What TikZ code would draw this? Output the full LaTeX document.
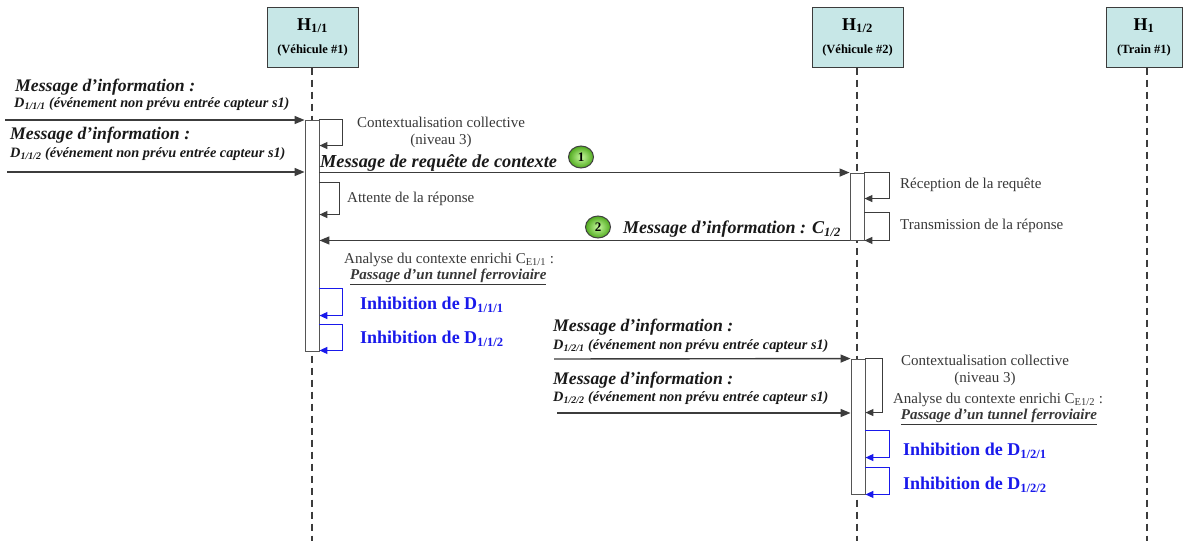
\documentclass[tikz,border=0pt]{standalone}
\usepackage{fontspec}
\setmainfont{Liberation Serif}
\usetikzlibrary{arrows.meta,shapes.geometric}
\definecolor{headfill}{RGB}{199,231,231}
\definecolor{linegray}{RGB}{60,60,60}
\definecolor{bargray}{RGB}{85,85,85}
\definecolor{inhblue}{RGB}{25,25,235}
\definecolor{txtgray}{RGB}{55,55,55}
\definecolor{ballin}{RGB}{200,250,160}
\definecolor{ballout}{RGB}{80,170,30}
\newcommand{\fmsg}{\fontsize{17.7}{20}\selectfont\bfseries\itshape}
\newcommand{\fdsc}{\fontsize{14.3}{16}\selectfont\bfseries\itshape}
\newcommand{\flab}{\fontsize{15}{17}\selectfont}
\newcommand{\finh}{\fontsize{18}{20}\selectfont\bfseries}
\newcommand{\fhead}{\fontsize{18}{20}\selectfont\bfseries}
\newcommand{\fheadsub}{\fontsize{12.5}{14}\selectfont\bfseries}
\tikzset{
  head/.style={draw=linegray, line width=1pt, fill=headfill, minimum height=60, inner sep=0, align=center},
  lifeline/.style={draw=linegray, line width=1.2pt, dash pattern=on 7pt off 5pt},
  actbar/.style={draw=bargray, fill=white, line width=0.9pt, minimum width=14, inner sep=0},
  msg/.style={draw=linegray, line width=1.4pt, -{Triangle[length=10pt,width=8pt]}},
  selfmsg/.style={draw=linegray, line width=1.3pt, -{Triangle[length=8pt,width=7pt]}},
  inhmsg/.style={draw=inhblue, line width=1.3pt, -{Triangle[length=8pt,width=7pt]}},
  lab/.style={inner sep=0, text=txtgray, font=\flab},
  msgtxt/.style={inner sep=0, text=black!90, font=\fmsg},
  dsctxt/.style={inner sep=0, text=black!90, font=\fdsc},
  inhtxt/.style={inner sep=0, text=inhblue, font=\finh},
  numball/.style={ellipse, draw=black!75, line width=1pt, inner color=ballin, outer color=ballout, minimum width=25, minimum height=22, inner sep=0, font=\fontsize{13}{14}\selectfont\bfseries}
}
\begin{document}
\begin{tikzpicture}[x=1pt,y=-1pt]
\useasboundingbox (0,0) rectangle (1183,541);
% heads
\node[head, minimum width=91] (h11) at (312.5,37) {{\fhead H\textsubscript{1/1}}\\[11pt]{\fheadsub (Véhicule \#1)}};
\node[head, minimum width=91] (h12) at (857.5,37) {{\fhead H\textsubscript{1/2}}\\[11pt]{\fheadsub (Véhicule \#2)}};
\node[head, minimum width=76] (h1) at (1144,37) {{\fhead H\textsubscript{1}}\\[11pt]{\fheadsub (Train \#1)}};
% lifelines
\coordinate (e11) at (312,541);
\coordinate (e12) at (857,541);
\coordinate (e1) at (1147,541);
\draw[lifeline] (e11 |- h11.south) -- (e11);
\draw[lifeline] (e12 |- h12.south) -- (e12);
\draw[lifeline] (e1 |- h1.south) -- (e1);
% activation bars
\node[actbar, minimum height=231] (b11) at (312,235.5) {};
\node[actbar, minimum height=67] (b12a) at (857,206.5) {};
\node[actbar, minimum height=135] (b12b) at (858,426.5) {};
% incoming messages H1/1
\node[msgtxt, anchor=west] (t1a) at (15,87) {Message d’information :};
\node[dsctxt, anchor=west] (t1b) at (14,104) {D\textsubscript{1/1/1} (événement non prévu entrée capteur s1)};
\coordinate (s1) at (5,120);
\draw[msg] (s1) -- (s1 -| b11.west);
\node[msgtxt, anchor=west] (t2a) at (10,135) {Message d’information :};
\node[dsctxt, anchor=west] (t2b) at (10,154) {D\textsubscript{1/1/2} (événement non prévu entrée capteur s1)};
\coordinate (s2) at (7,172);
\draw[msg] (s2) -- (s2 -| b11.west);
% self messages H1/1
\draw[selfmsg] (b11.north east) -- ++(23,0) -- ++(0,26) -- ++(-23,0);
\node[lab, align=center] (l1) at (441,132) {Contextualisation collective\\(niveau 3)};
\draw[msg] (b11.east |- b12a.north) -- (b12a.north west);
\node[msgtxt, anchor=west, font=\fontsize{18.3}{20}\selectfont\bfseries\itshape] (treq) at (320,163) {Message de requête de contexte};
\node[numball] (n1) at (581,157) {1};
\draw[selfmsg] ([yshift=-63pt]b11.north east) -- ++(20,0) -- ++(0,32) -- ++(-20,0);
\node[lab, anchor=west] (l2) at (347,199) {Attente de la réponse};
% H1/2 first bar
\draw[selfmsg] (b12a.north east) -- ++(25,0) -- ++(0,26) -- ++(-25,0);
\node[lab, anchor=west] (l3) at (900,185) {Réception de la requête};
\draw[selfmsg] ([yshift=28pt]b12a.south east) -- ++(25,0) -- ++(0,28) -- ++(-25,0);
\node[lab, anchor=west] (l4) at (900,226) {Transmission de la réponse};
\draw[msg] (b12a.south west) -- (b11.east |- b12a.south);
\node[numball] (n2) at (598,227) {2};
\node[msgtxt, anchor=east, font=\fontsize{18}{20}\selectfont\bfseries\itshape] (tresp) at (841,229) {Message d’information : C\textsubscript{1/2}};
% analysis H1/1
\node[lab, anchor=west] (l5) at (344,260) {Analyse du contexte enrichi C\textsubscript{E1/1} :};
\node[inner sep=0, anchor=west, font=\flab\bfseries\itshape, text=txtgray] (l6) at (350,277) {\underline{Passage d’un tunnel ferroviaire}};
\draw[inhmsg] ([yshift=-169pt]b11.north east) -- ++(23,0) -- ++(0,27) -- ++(-23,0);
\node[inhtxt, anchor=west] (i1) at (360,305) {Inhibition de D\textsubscript{1/1/1}};
\draw[inhmsg] ([yshift=27pt]b11.south east) -- ++(23,0) -- ++(0,26) -- ++(-23,0);
\node[inhtxt, anchor=west] (i2) at (360,339) {Inhibition de D\textsubscript{1/1/2}};
% incoming messages H1/2
\node[msgtxt, anchor=west] (t3a) at (553,327) {Message d’information :};
\node[dsctxt, anchor=west] (t3b) at (553,346) {D\textsubscript{1/2/1} (événement non prévu entrée capteur s1)};
\coordinate (s3) at (554,359);
\draw[msg] (s3) -- (b12b.north west);
\node[msgtxt, anchor=west] (t4a) at (553,380) {Message d’information :};
\node[dsctxt, anchor=west] (t4b) at (553,398) {D\textsubscript{1/2/2} (événement non prévu entrée capteur s1)};
\coordinate (s4) at (557,413);
\draw[msg] (s4) -- (s4 -| b12b.west);
% self messages H1/2 second bar
\draw[selfmsg] (b12b.north east) -- ++(17,0) -- ++(0,54) -- ++(-17,0);
\node[lab, align=center] (l7) at (985,370) {Contextualisation collective\\(niveau 3)};
\node[lab, anchor=center] (l8) at (998,400) {Analyse du contexte enrichi C\textsubscript{E1/2} :};
\node[inner sep=0, anchor=center, font=\flab\bfseries\itshape, text=txtgray] (l9) at (999,417) {\underline{Passage d’un tunnel ferroviaire}};
\draw[inhmsg] ([yshift=-72pt]b12b.north east) -- ++(24,0) -- ++(0,27) -- ++(-24,0);
\node[inhtxt, anchor=west] (i3) at (903,451) {Inhibition de D\textsubscript{1/2/1}};
\draw[inhmsg] ([yshift=27pt]b12b.south east) -- ++(24,0) -- ++(0,27) -- ++(-24,0);
\node[inhtxt, anchor=west] (i4) at (903,485) {Inhibition de D\textsubscript{1/2/2}};
\end{tikzpicture}
\end{document}
